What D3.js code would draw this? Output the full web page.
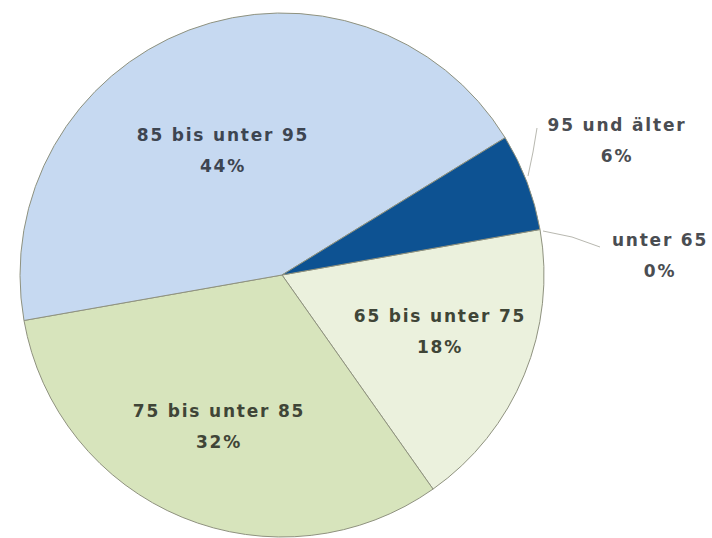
<!DOCTYPE html>
<html>
<head>
<meta charset="utf-8">
<script src="https://cdn.jsdelivr.net/npm/d3@7"></script>
<style>
  html, body { margin: 0; padding: 0; background: #ffffff; }
  svg text { font-family: "DejaVu Sans", sans-serif; font-weight: bold; }
</style>
</head>
<body>
<svg id="chart" width="712" height="538"></svg>
<script>
// Altersgruppen und Anteile (Prozent)
const categories = ["unter 65", "65 bis unter 75", "75 bis unter 85", "85 bis unter 95", "95 und älter"];
const shares = [0, 18, 32, 44, 6];
const labels = ["0%", "18%", "32%", "44%", "6%"];
const colors = ["#f2f5e6", "#ebf1dd", "#d7e4bc", "#c6d9f1", "#0d5292"];
const textColors = ["#4a4d52", "#3f4537", "#3f4537", "#3d4551", "#4a4d52"];

const svg = d3.select("#chart");
const cx = 282, cy = 275, r = 262;
const g = svg.append("g").attr("transform", `translate(${cx},${cy})`);

const startDeg = 80;
const pie = d3.pie().sort(null).value(d => d.v)
  .startAngle(startDeg * Math.PI / 180)
  .endAngle((startDeg + 360) * Math.PI / 180);
const data = categories.map((c, i) => ({ c, v: shares[i], l: labels[i], i }));
const arcs = pie(data);
const arc = d3.arc().innerRadius(0).outerRadius(r);

g.selectAll("path.slice").data(arcs).join("path")
  .attr("class", "slice")
  .attr("d", arc)
  .attr("fill", d => colors[d.data.i])
  .attr("stroke", "#8f927f")
  .attr("stroke-width", 1);

const fs = 17;
const ls = 1.8;
const lineGap = 31;

// Beschriftungen innerhalb der großen Segmente (Grundlinie der ersten Zeile)
const inner = { 1: [158, 47], 2: [-63, 142], 3: [-59, -134] };
arcs.filter(d => inner[d.data.i]).forEach(d => {
  const [dx, dy] = inner[d.data.i];
  const t = g.append("text")
    .attr("text-anchor", "middle")
    .attr("font-size", fs)
    .attr("letter-spacing", ls)
    .attr("fill", textColors[d.data.i]);
  t.append("tspan").attr("x", dx).attr("y", dy).text(d.data.c);
  t.append("tspan").attr("x", dx).attr("y", dy + lineGap).text(d.data.l);
});

// Außenbeschriftungen mit Führungslinien für kleine Segmente
const outer = {
  0: { line: [[543, 231], [572, 237], [600, 247]], pos: [660, 246] },
  4: { line: [[528, 176], [533, 152], [537, 128]], pos: [617, 131] }
};
const lineGen = d3.line();
Object.entries(outer).forEach(([k, o]) => {
  const d = arcs[+k];
  svg.append("path")
    .attr("d", lineGen(o.line))
    .attr("fill", "none")
    .attr("stroke", "#b8b8b0")
    .attr("stroke-width", 1);
  const t = svg.append("text")
    .attr("text-anchor", "middle")
    .attr("font-size", fs)
    .attr("letter-spacing", ls)
    .attr("fill", textColors[d.data.i]);
  t.append("tspan").attr("x", o.pos[0]).attr("y", o.pos[1]).text(d.data.c);
  t.append("tspan").attr("x", o.pos[0]).attr("y", o.pos[1] + lineGap).text(d.data.l);
});
</script>
</body>
</html>
